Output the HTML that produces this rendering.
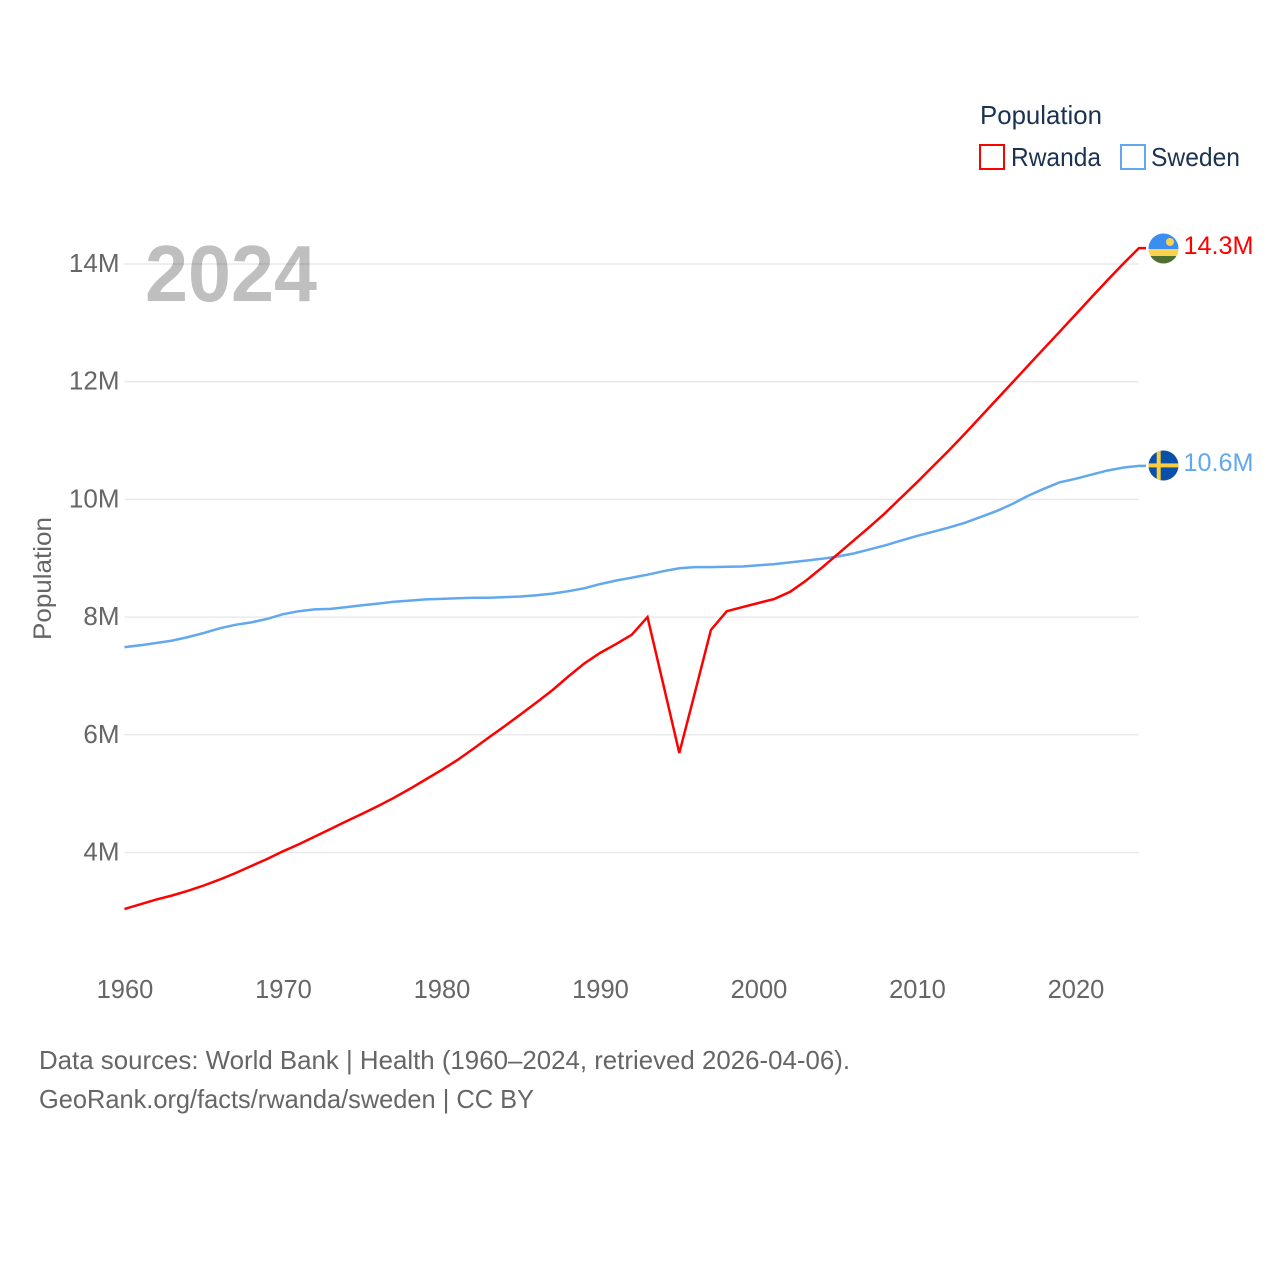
<!DOCTYPE html>
<html lang="en">
<head>
<meta charset="utf-8">
<title>Rwanda and Sweden population, 1960–2024</title>
<style>
html,body{margin:0;padding:0;background:#fff;}
svg{display:block;font-family:"Liberation Sans",sans-serif;}
</style>
</head>
<body>
<svg id="chart" xmlns="http://www.w3.org/2000/svg" width="1280" height="1280" viewBox="0 0 1280 1280">
  <g id="grid"></g>
  <text x="145" y="301" font-size="80" font-weight="700" fill="rgba(0,0,0,0.25)" textLength="172" lengthAdjust="spacingAndGlyphs">2024</text>
  <g id="y-ticks"></g>
  <g id="x-ticks"></g>
  <text transform="translate(51,640) rotate(-90)" font-size="25" fill="#666" textLength="123" lengthAdjust="spacingAndGlyphs">Population</text>
  <g id="series"></g>

  <g>
    <text x="980" y="124" font-size="26" fill="#1b3250" textLength="122" lengthAdjust="spacingAndGlyphs">Population</text>
    <rect x="980" y="145" width="24" height="24" fill="#fff" stroke="#ff0000" stroke-width="2"/>
    <text x="1011" y="166" font-size="26" fill="#1b3250" textLength="90" lengthAdjust="spacingAndGlyphs">Rwanda</text>
    <rect x="1121" y="145" width="24" height="24" fill="#fff" stroke="#62a8ef" stroke-width="2"/>
    <text x="1151" y="166" font-size="26" fill="#1b3250" textLength="89" lengthAdjust="spacingAndGlyphs">Sweden</text>
  </g>

  <defs>
    <clipPath id="clip-rw"><circle cx="1163.5" cy="248.5" r="15"/></clipPath>
    <clipPath id="clip-se"><circle cx="1163.5" cy="465.5" r="15"/></clipPath>
  </defs>
  <g clip-path="url(#clip-rw)">
    <rect x="1148" y="233" width="31" height="16" fill="#3a8ef0"/>
    <rect x="1148" y="249" width="31" height="7" fill="#fad24b"/>
    <rect x="1148" y="256" width="31" height="9" fill="#4f7030"/>
    <circle cx="1170" cy="242" r="4" fill="#fad24b"/>
  </g>
  <g clip-path="url(#clip-se)">
    <rect x="1148" y="450" width="31" height="31" fill="#0a50a8"/>
    <rect x="1156.7" y="450" width="4" height="31" fill="#fbcd3c"/>
    <rect x="1148" y="463.4" width="31" height="4" fill="#fbcd3c"/>
  </g>
  <text x="1183.5" y="254" font-size="25" fill="#ff0000" textLength="70" lengthAdjust="spacingAndGlyphs">14.3M</text>
  <text x="1183.5" y="471" font-size="25" fill="#62a8ef" textLength="70" lengthAdjust="spacingAndGlyphs">10.6M</text>

  <text x="39" y="1069" font-size="26" fill="#666" textLength="811" lengthAdjust="spacingAndGlyphs">Data sources: World Bank | Health (1960–2024, retrieved 2026-04-06).</text>
  <text x="39" y="1108" font-size="26" fill="#666" textLength="495" lengthAdjust="spacingAndGlyphs">GeoRank.org/facts/rwanda/sweden | CC BY</text>
</svg>
<script>
const firstYear = 1960;
const xTickYears = [1960, 1970, 1980, 1990, 2000, 2010, 2020];
const yTickValues = [4, 6, 8, 10, 12, 14];
const rwanda = [3.04, 3.12, 3.2, 3.27, 3.35, 3.44, 3.54, 3.65, 3.77, 3.89, 4.02, 4.14, 4.27, 4.4, 4.53, 4.66, 4.79, 4.93, 5.08, 5.24, 5.4, 5.57, 5.76, 5.96, 6.15, 6.35, 6.55, 6.76, 6.99, 7.21, 7.39, 7.54, 7.7, 8.0, 6.85, 5.69, 6.73, 7.78, 8.1, 8.17, 8.24, 8.31, 8.43, 8.62, 8.84, 9.07, 9.3, 9.53, 9.77, 10.03, 10.29, 10.56, 10.83, 11.11, 11.4, 11.69, 11.98, 12.27, 12.56, 12.85, 13.14, 13.43, 13.72, 14.0, 14.27];
const sweden = [7.49, 7.52, 7.56, 7.6, 7.66, 7.73, 7.81, 7.87, 7.91, 7.97, 8.05, 8.1, 8.13, 8.14, 8.17, 8.2, 8.23, 8.26, 8.28, 8.3, 8.31, 8.32, 8.33, 8.33, 8.34, 8.35, 8.37, 8.4, 8.44, 8.49, 8.56, 8.62, 8.67, 8.72, 8.78, 8.83, 8.85, 8.85, 8.855, 8.86, 8.88, 8.9, 8.93, 8.96, 8.99, 9.03, 9.08, 9.15, 9.22, 9.3, 9.38, 9.45, 9.52, 9.6, 9.7, 9.8, 9.92, 10.06, 10.18, 10.29, 10.35, 10.42, 10.49, 10.54, 10.57];

const SVG_NS = 'http://www.w3.org/2000/svg';
function xScale(year) { return 124.5 + (year - 1960) * 15.85; }
function yScale(v) { return 852.5 - (v - 4) * 58.85; }

const gridGroup = document.getElementById('grid');
const yGroup = document.getElementById('y-ticks');
const xGroup = document.getElementById('x-ticks');
const seriesGroup = document.getElementById('series');

yTickValues.forEach(function (v) {
  const line = document.createElementNS(SVG_NS, 'line');
  
  
  line.setAttribute('x1', xScale(1960));
  line.setAttribute('x2', xScale(2024));
  line.setAttribute('y1', yScale(v));
  line.setAttribute('y2', yScale(v));
  line.setAttribute('stroke', '#e9e9e9');
  line.setAttribute('stroke-width', '1.5');
  gridGroup.appendChild(line);

  const label = document.createElementNS(SVG_NS, 'text');
  
  
  label.setAttribute('x', 119.5);
  label.setAttribute('y', yScale(v) + 8);
  label.setAttribute('text-anchor', 'end');
  label.setAttribute('font-size', '26');
  label.setAttribute('fill', '#666');
  label.textContent = v + 'M';
  yGroup.appendChild(label);
});

xTickYears.forEach(function (year) {
  const label = document.createElementNS(SVG_NS, 'text');
  
  
  label.setAttribute('x', xScale(year) + 0.5);
  label.setAttribute('y', 998);
  label.setAttribute('text-anchor', 'middle');
  label.setAttribute('font-size', '25.5');
  label.setAttribute('fill', '#666');
  label.textContent = String(year);
  xGroup.appendChild(label);
});

function drawSeries(values, color, name) {
  const pts = values.map(function (v, i) {
    return xScale(firstYear + i).toFixed(1) + ',' + yScale(v).toFixed(1);
  });
  const lastY = yScale(values[values.length - 1]).toFixed(1);
  pts.push('1146,' + lastY);
  const line = document.createElementNS(SVG_NS, 'polyline');
  
  
  line.setAttribute('points', pts.join(' '));
  line.setAttribute('fill', 'none');
  line.setAttribute('stroke', color);
  line.setAttribute('stroke-width', '2.5');
  line.setAttribute('stroke-linejoin', 'miter');
  seriesGroup.appendChild(line);
}
drawSeries(sweden, '#62a8ef', 'sweden-line');
drawSeries(rwanda, '#ff0000', 'rwanda-line');
</script>
</body>
</html>
